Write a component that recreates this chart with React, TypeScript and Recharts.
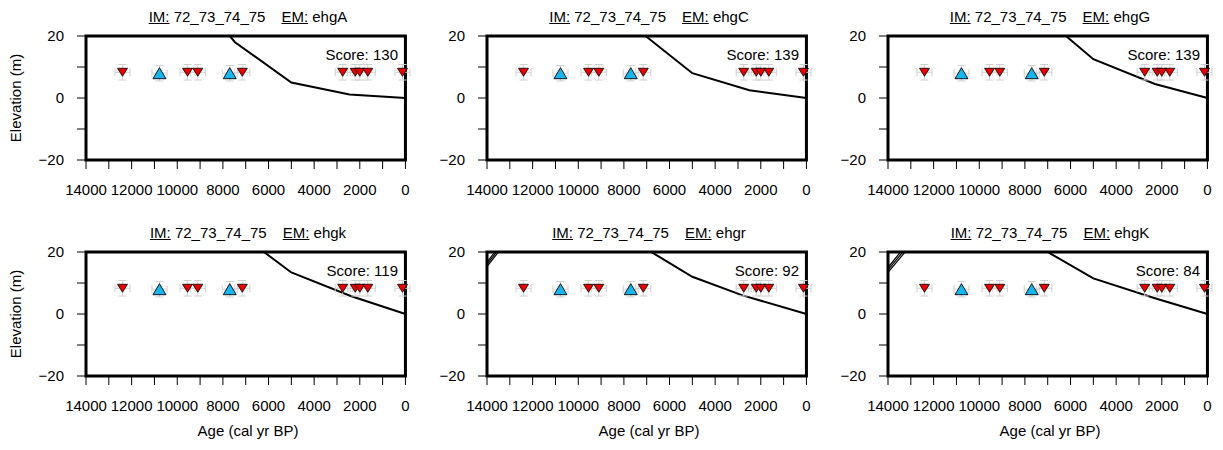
import React from 'react';
import { ComposedChart, Line, Scatter, XAxis, YAxis, ErrorBar, ReferenceArea } from 'recharts';

// shared axes
const xTicks = [14000, 13000, 12000, 11000, 10000, 9000, 8000, 7000, 6000, 5000, 4000, 3000, 2000, 1000, 0];
const yTicks = [-20, -10, 0, 10, 20];

// observations (same in every panel)
const redAges = [12400, 9550, 9100, 7150, 2750, 2200, 2000, 1650, 130];
const redElev = 8.3;
const blueAges = [10780, 7700];
const blueElev = 8.0;
const ageErr = 330;
const elevErr = 2.5;

const imName = '72_73_74_75';
const emNames = ['ehgA', 'ehgC', 'ehgG', 'ehgk', 'ehgr', 'ehgK'];
const scores = [130, 139, 139, 119, 92, 84];

// model curves [age, elevation]
const curveA = [[7700, 20], [7470, 18], [5000, 5], [2450, 1.1], [0, 0]];
const curveC = [[7050, 20], [5000, 8], [2500, 2.5], [0, 0]];
const curveG = [[6200, 20], [5000, 12.5], [2300, 4.5], [0, 0]];
const curvek = [[6200, 20], [5000, 13.4], [2400, 5.8], [0, 0]];
const curver = [[6800, 20], [5000, 12], [2800, 6.0], [0, 0]];
const curveK = [[7000, 20], [5000, 11.5], [2300, 5.1], [0, 0]];
const curves = [curveA, curveC, curveG, curvek, curver, curveK];

// little wedge lines in the upper-left corner
const hatchr = [
  [[14000, 15.3], [13500, 20]],
  [[14000, 16.0], [13580, 20]],
  [[14000, 16.7], [13660, 20]],
];
const hatchK = [
  [[14000, 13.4], [13250, 20]],
  [[14000, 14.2], [13350, 20]],
  [[14000, 15.0], [13450, 20]],
];
const hatches = [[], [], [], [], hatchr, hatchK];

const FONT = '"Liberation Sans", Arial, Helvetica, sans-serif';
const plotLefts = [86, 487, 888];
const plotTops = [36, 252];
const PW = 324;
const PH = 124;
const YW = 60;
const XH = 20;
const TS = 9; // tick length
const BM = 15; // bottom label gap
const LM = 13; // left label gap

const toPts = (arr: number[][]) => arr.map(([age, elev]) => ({ age, elev }));

const redData = redAges.map((age) => ({ age, elev: redElev, ageErr, elevErr }));
const blueData = blueAges.map((age) => ({ age, elev: blueElev, ageErr, elevErr }));

const DownTri = (p: any) => {
  const { cx, cy } = p;
  return <path d={`M${cx - 5},${cy - 4}L${cx + 5},${cy - 4}L${cx},${cy + 4}Z`} fill="#e60000" stroke="#000" strokeWidth={0.8} />;
};

const UpTri = (p: any) => {
  const { cx, cy } = p;
  return <path d={`M${cx - 6.5},${cy + 5.5}L${cx + 6.5},${cy + 5.5}L${cx},${cy - 5.5}Z`} fill="#19b5ee" stroke="#000" strokeWidth={0.9} />;
};

const fmtX = (v: number) => (v % 2000 === 0 ? String(v) : '');
const fmtY = (v: number) => (v % 20 !== 0 ? '' : v < 0 ? '\u2212' + Math.abs(v) : String(v));

// tick renderers: draw the outward tick line plus the label
const BottomTick = (p: any) => {
  const { x, y, payload } = p;
  return (
    <g>
      <line x1={x} x2={x} y1={y - BM - TS} y2={y - BM} stroke="#000" strokeWidth={1} />
      <text x={x} y={y} dy="0.71em" textAnchor="middle" fill="#000" fontSize={15} fontFamily={FONT}>{fmtX(payload.value)}</text>
    </g>
  );
};
const TopTick = (p: any) => {
  const { x, y } = p;
  return <line x1={x} x2={x} y1={y} y2={y + TS} stroke="#000" strokeWidth={1} />;
};
const LeftTick = (p: any) => {
  const { x, y, payload } = p;
  return (
    <g>
      <line x1={x + LM} x2={x + LM + TS} y1={y} y2={y} stroke="#000" strokeWidth={1} />
      <text x={x} y={y} dy="0.355em" textAnchor="end" fill="#000" fontSize={15} fontFamily={FONT}>{fmtY(payload.value)}</text>
    </g>
  );
};
const RightTick = (p: any) => {
  const { x, y } = p;
  return <line x1={x - TS} x2={x} y1={y} y2={y} stroke="#000" strokeWidth={1} />;
};

const Panel = ({ idx }: { idx: number }) => {
  const col = idx % 3;
  const row = Math.floor(idx / 3);
  const left = plotLefts[col];
  const top = plotTops[row];
  return (
    <>
      <div style={{ position: 'absolute', left: left - YW, top: top - XH }}>
        <ComposedChart width={YW + PW + 20} height={XH + PH + 40} margin={{ top: 0, right: 0, bottom: 0, left: 0 }}>
          <XAxis xAxisId="b" dataKey="age" type="number" domain={[0, 14000]} reversed ticks={xTicks} interval={0}
            tick={BottomTick} tickLine={false} tickSize={TS} tickMargin={BM} axisLine={false} height={40} />
          <XAxis xAxisId="t" orientation="top" dataKey="age" type="number" domain={[0, 14000]} reversed ticks={xTicks} interval={0}
            tick={TopTick} tickLine={false} tickSize={TS} tickMargin={0} axisLine={false} height={XH} />
          <YAxis yAxisId="l" type="number" domain={[-20, 20]} ticks={yTicks} interval={0}
            tick={LeftTick} tickLine={false} tickSize={TS} tickMargin={LM} axisLine={false} width={YW} />
          <YAxis yAxisId="r" orientation="right" type="number" domain={[-20, 20]} ticks={yTicks} interval={0}
            tick={RightTick} tickLine={false} tickSize={TS} tickMargin={0} axisLine={false} width={20} />
          <Line xAxisId="b" yAxisId="l" data={toPts(curves[idx])} dataKey="elev" type="linear" stroke="#000"
            strokeWidth={2} dot={false} activeDot={false} isAnimationActive={false} />
          {hatches[idx].map((h, i) => (
            <Line key={i} xAxisId="b" yAxisId="l" data={toPts(h)} dataKey="elev" type="linear" stroke="#000"
              strokeWidth={1.2} dot={false} activeDot={false} isAnimationActive={false} />
          ))}
          <Scatter xAxisId="b" yAxisId="l" data={redData} dataKey="elev" shape={DownTri} isAnimationActive={false}>
            <ErrorBar dataKey="ageErr" direction="x" stroke="#cfcfcf" strokeWidth={1} width={4} />
            <ErrorBar dataKey="elevErr" direction="y" stroke="#cfcfcf" strokeWidth={1} width={4} />
          </Scatter>
          <Scatter xAxisId="b" yAxisId="l" data={blueData} dataKey="elev" shape={UpTri} isAnimationActive={false}>
            <ErrorBar dataKey="ageErr" direction="x" stroke="#cfcfcf" strokeWidth={1} width={4} />
            <ErrorBar dataKey="elevErr" direction="y" stroke="#cfcfcf" strokeWidth={1} width={4} />
          </Scatter>
          <ReferenceArea xAxisId="b" yAxisId="l" x1={14000} x2={0} y1={-20} y2={20} fill="none" fillOpacity={0}
            stroke="#000" strokeWidth={3} />
        </ComposedChart>
      </div>
      <div style={{ position: 'absolute', left, top: top - 28, width: PW, textAlign: 'center', fontSize: 15, lineHeight: '18px', whiteSpace: 'pre' }}>
        <span style={{ textDecoration: 'underline' }}>IM:</span> {imName}
        <span style={{ textDecoration: 'underline', marginLeft: 16 }}>EM:</span> {emNames[idx]}
      </div>
      <div style={{ position: 'absolute', left, top: top + 10, width: PW - 12, textAlign: 'right', fontSize: 15, lineHeight: '18px' }}>
        Score: {scores[idx]}
      </div>
      {col === 0 && (
        <div style={{ position: 'absolute', left: 16 - 60, top: top + PH / 2 - 9, width: 120, textAlign: 'center', fontSize: 15,
          lineHeight: '18px', transform: 'rotate(-90deg)' }}>
          Elevation (m)
        </div>
      )}
      {row === 1 && (
        <div style={{ position: 'absolute', left, top: 422, width: PW, textAlign: 'center', fontSize: 15, lineHeight: '18px' }}>
          Age (cal yr BP)
        </div>
      )}
    </>
  );
};

export default function App() {
  return (
    <div style={{ position: 'fixed', left: 0, top: 0, width: 1223, height: 450, background: '#fff', fontFamily: FONT, color: '#000', overflow: 'hidden' }}>
      {[0, 1, 2, 3, 4, 5].map((i) => (
        <Panel key={i} idx={i} />
      ))}
    </div>
  );
}
